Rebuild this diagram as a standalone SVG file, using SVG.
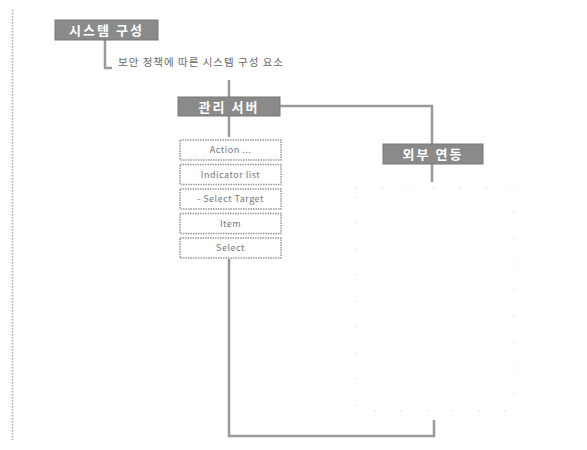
<svg xmlns="http://www.w3.org/2000/svg" width="587" height="450" viewBox="0 0 587 450">
<style>
.hd{fill:#8a8a8a;stroke:#777;stroke-width:1}
.hdt{fill:#fff;font-family:"Noto Sans CJK KR","Noto Sans",sans-serif;font-size:13px;font-weight:bold;text-anchor:middle;letter-spacing:2px}
.item{fill:#fff;stroke:#999;stroke-width:1.5;stroke-dasharray:1.5 1}
.it{fill:#777;font-family:"Noto Sans CJK KR","Noto Sans",sans-serif;font-size:9px;text-anchor:middle;letter-spacing:0.5px}
.sub{fill:#666;font-family:"Noto Sans CJK KR","Noto Sans",sans-serif;font-size:10.5px;letter-spacing:1px}
.cn{fill:none;stroke:#9a9a9a;stroke-width:2.5}
</style>
<rect x="0" y="0" width="587" height="450" fill="#fff"/>
<g id="frame">
<line x1="12.5" y1="10" x2="12.5" y2="440" stroke="#aaa" stroke-width="1.5" stroke-dasharray="1.5 1.5"/>
</g>
<g id="connectors">
<polyline class="cn" points="105,40 105,68 112,68"/>
<line class="cn" x1="229" y1="80" x2="229" y2="137"/>
<polyline class="cn" points="280,106 432,106 432,144"/>
<line class="cn" x1="432" y1="164" x2="432" y2="182"/>
<polyline class="cn" points="229,259 229,436 434,436 434,420"/>
</g>
<g id="n-title">
<rect class="hd" x="55" y="20" width="103" height="20"/>
<text class="hdt" x="106.5" y="35">시스템 구성</text>
</g>
<g id="n-subtitle">
<text class="sub" x="118" y="66">보안 정책에 따른 시스템 구성 요소</text>
</g>
<g id="n-main">
<rect class="hd" x="178" y="97" width="102" height="19"/>
<text class="hdt" x="229" y="111.5">관리 서버</text>
</g>
<g id="n-right">
<rect class="hd" x="383" y="144" width="100" height="20"/>
<text class="hdt" x="433" y="158.5">외부 연동</text>
</g>
<g id="n-list">
<rect class="item" x="180" y="140" width="101" height="20"/>
<text class="it" x="230.5" y="153">Action ...</text>
<rect class="item" x="180" y="164.5" width="101" height="20"/>
<text class="it" x="230.5" y="177.5">Indicator list</text>
<rect class="item" x="180" y="189" width="101" height="20"/>
<text class="it" x="230.5" y="202">- Select Target</text>
<rect class="item" x="180" y="213.5" width="101" height="20"/>
<text class="it" x="230.5" y="226.5">Item</text>
<rect class="item" x="180" y="238" width="101" height="20"/>
<text class="it" x="230.5" y="251">Select</text>
</g>
<g id="n-area">
<rect x="355" y="188" width="159" height="223" fill="none" stroke="#e2e2e2" stroke-width="1" stroke-dasharray="2 24"/>
</g>
</svg>
